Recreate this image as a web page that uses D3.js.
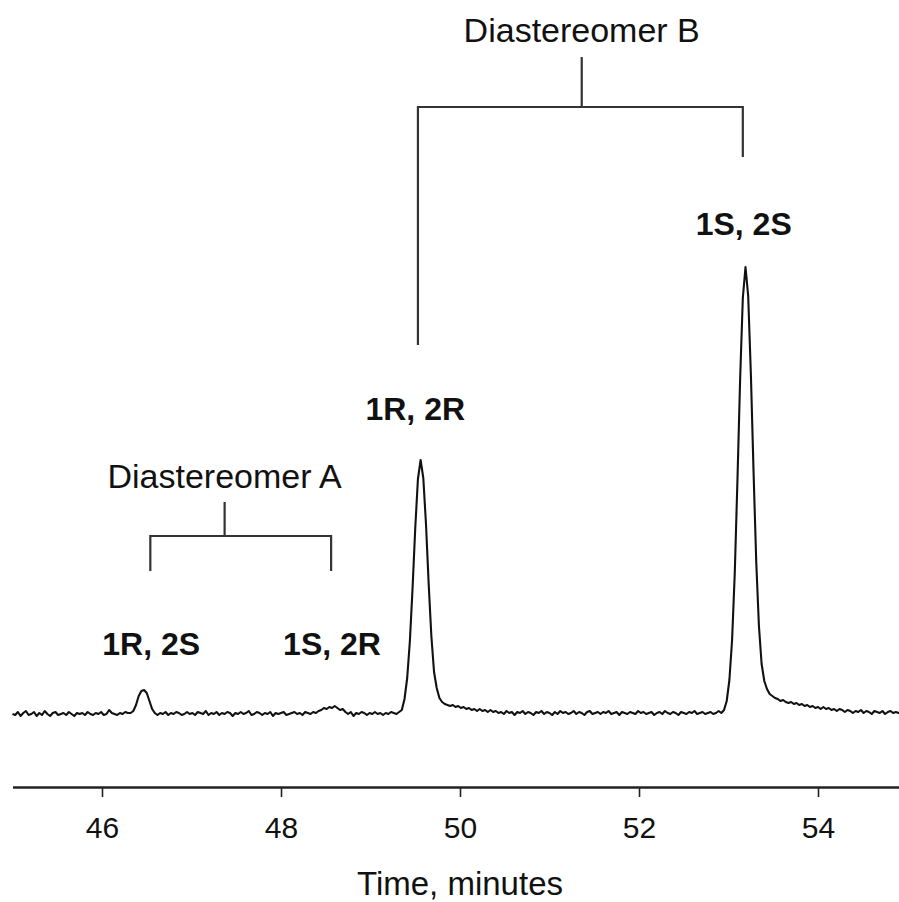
<!DOCTYPE html>
<html>
<head>
<meta charset="utf-8">
<script src="https://cdn.jsdelivr.net/npm/d3@7"></script>
<style>
  body { margin: 0; background: #fff; }
  text { font-family: "Liberation Sans", Arial, Helvetica, sans-serif; fill: #111; }
</style>
</head>
<body>
<div id="chart"></div>
<script>
// detector trace, one value every 0.03 min from 45.00 min
const T0 = 45.0;
const DT = 0.03;
const signal = [
  0, -1, 2, -2, 1, 3, -1, 0, 2, -2,
  1, -1, 3, 0, -2, 1, 2, -1, 0, 1,
  -1, 2, 0, -2, 1, 0, 1, -1, 2, 0,
  -1, 1, 0, 2, -1, 0, 4, 1, 0, -1,
  1, 0, 2, 1, 1, 3, 9, 18, 23, 24,
  21, 13, 5, 1, -1, 1, 0, 2, -1, 1,
  0, 2, 1, -1, 0, 2, 0, 1, -1, 2,
  1, 0, 3, -1, 1, 0, 2, -1, 1, 0,
  2, 1, -2, 1, 0, 2, 0, 1, 3, -1,
  0, 2, 1, -1, 1, 0, 2, -2, 1, 0,
  1, 2, -1, 0, 1, 2, 0, 1, -1, 2,
  1, 0, 2, 1, 3, 4, 6, 5, 7, 6,
  8, 6, 4, 5, 2, 0, 2, -2, 1, 0,
  2, 1, -1, 1, 0, 2, 0, 1, -1, 1,
  0, 2, 1, 0, 2, 4, 15, 36, 73, 126,
  186, 235, 254, 236, 190, 130, 78, 42, 26, 16,
  12, 10, 9, 8, 9, 7, 8, 6, 7, 5,
  6, 4, 5, 3, 5, 3, 4, 2, 4, 2,
  3, 1, 2, 0, 3, 1, 2, -1, 2, 1,
  3, 0, 2, 1, -1, 2, 1, 3, 0, 2,
  1, -1, 2, 0, 3, 1, 2, 0, 1, 3,
  0, 2, 1, -1, 2, 3, 0, 1, 2, 0,
  2, 1, 3, 0, 1, 2, -1, 2, 1, 0,
  2, 1, 0, 3, 1, 2, 0, 1, 2, -1,
  1, 2, 0, 3, 1, 0, 2, 1, -1, 2,
  1, 0, 2, 1, 3, 0, 1, 2, 0, 1,
  2, 0, 1, 3, 1, 4, 13, 34, 74, 141,
  234, 335, 416, 447, 418, 340, 242, 152, 88, 50,
  33, 25, 20, 18, 16, 15, 13, 14, 12, 11,
  12, 10, 11, 9, 10, 8, 9, 7, 8, 6,
  7, 5, 7, 5, 6, 4, 5, 3, 5, 4,
  2, 4, 3, 1, 3, 2, 4, 1, 3, 2,
  0, 3, 2, 1, 3, 0, 2, 3, 1, 2,
  1, 2
];

const tickValues = [46, 48, 50, 52, 54];
const xTitle = "Time, minutes";

// peak labels (centre time)
const peakNames = ["1R, 2S", "1S, 2R", "1R, 2R", "1S, 2S"];
const peakTimes = [46.55, 48.57, 49.50, 53.17];

// diastereomer brackets: left leg, right leg, stem (times)
const groupNames = ["Diastereomer A", "Diastereomer B"];
const groupLeft = [46.54, 49.53];
const groupRight = [48.56, 53.16];
const groupStem = [47.37, 51.36];

const WIDTH = 899, HEIGHT = 902;
const AXIS_Y = 787;

const svg = d3.select("#chart").append("svg")
  .attr("width", WIDTH)
  .attr("height", HEIGHT)
  .style("display", "block");

const x = d3.scaleLinear().domain([45, 55]).range([12.5, 907.5]);
const y = d3.scaleLinear().domain([0, 450]).range([714, 264]);

const trace = signal.map((v, i) => ({ t: T0 + i * DT, v: v }));

svg.append("path")
  .datum(trace)
  .attr("fill", "none")
  .attr("stroke", "#111")
  .attr("stroke-width", 2.1)
  .attr("stroke-linejoin", "round")
  .attr("d", d3.line().x(d => x(d.t)).y(d => y(d.v)));

// x axis
const xAxis = svg.append("g")
  .attr("transform", `translate(0, ${AXIS_Y})`)
  .call(d3.axisBottom(x).tickValues(tickValues).tickSize(10).tickSizeOuter(0).tickPadding(20));
xAxis.select(".domain").attr("stroke", "#222").attr("stroke-width", 2.4);
xAxis.selectAll(".tick line").attr("stroke", "#222").attr("stroke-width", 1.6);
xAxis.selectAll(".tick text")
  .attr("fill", "#111")
  .style("font-family", "'Liberation Sans', Arial, sans-serif")
  .style("font-size", "30px");

svg.append("text")
  .attr("x", x(50))
  .attr("y", 895)
  .attr("text-anchor", "middle")
  .style("font-size", "33px")
  .text(xTitle);

// peak labels
const labelBase = [655, 655, 420, 235];
svg.selectAll(".peak-label")
  .data(peakNames)
  .join("text")
    .attr("class", "peak-label")
    .attr("x", (d, i) => x(peakTimes[i]))
    .attr("y", (d, i) => labelBase[i])
    .attr("text-anchor", "middle")
    .style("font-size", "32px")
    .style("font-weight", "bold")
    .text(d => d);

// brackets
const bracketLayout = [
  { textY: 488, stemTop: 502, barY: 536, leftBottom: 571, rightBottom: 571 },
  { textY: 42, stemTop: 57, barY: 107, leftBottom: 345, rightBottom: 157 }
];

groupNames.forEach((name, i) => {
  const L = bracketLayout[i];
  const g = svg.append("g")
    .attr("fill", "none")
    .attr("stroke", "#333")
    .attr("stroke-width", 2.2);
  g.append("path").attr("d",
    `M${x(groupLeft[i])},${L.leftBottom}V${L.barY}H${x(groupRight[i])}V${L.rightBottom}` +
    `M${x(groupStem[i])},${L.barY}V${L.stemTop}`);
  svg.append("text")
    .attr("x", x(groupStem[i]))
    .attr("y", L.textY)
    .attr("text-anchor", "middle")
    .style("font-size", "34px")
    .text(name);
});
</script>
</body>
</html>
